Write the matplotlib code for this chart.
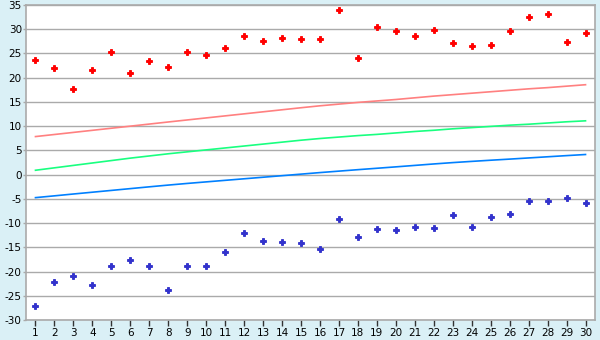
import matplotlib.pyplot as plt
import numpy as np

plt.rcParams['axes.unicode_minus'] = False

# Data
x = np.arange(1, 31)

upper_pts = [23.6, 22.1, 17.6, 21.5, 25.4, 20.9, 23.4, 22.3, 25.4, 24.6,
             26.1, 28.5, 27.5, 28.1, 27.9, 27.9, 33.9, 24.0, 30.4, 29.6,
             28.5, 29.8, 27.1, 26.5, 26.7, 29.6, 32.5, 33.1, 27.3, 29.2]
lower_pts = [-27.2, -22.2, -21.0, -22.8, -18.9, -17.7, -18.9, -23.9, -18.9, -18.9,
             -16.0, -12.1, -13.8, -14.0, -14.2, -15.4, -9.2, -12.9, -11.3, -11.5,
             -10.9, -11.1, -8.4, -10.9, -8.8, -8.2, -5.5, -5.5, -4.9, -5.9]
red_line = [7.85, 8.28, 8.71, 9.14, 9.57, 10.0, 10.43, 10.86, 11.28, 11.70,
            12.12, 12.54, 12.96, 13.38, 13.8, 14.2, 14.55, 14.9, 15.2, 15.5,
            15.85, 16.2, 16.5, 16.8, 17.1, 17.4, 17.7, 17.95, 18.25, 18.55]
green_line = [0.9, 1.4, 1.9, 2.4, 2.9, 3.4, 3.85, 4.3, 4.7, 5.1,
              5.5, 5.9, 6.3, 6.7, 7.1, 7.45, 7.75, 8.05, 8.3, 8.6,
              8.9, 9.15, 9.45, 9.7, 9.95, 10.2, 10.4, 10.65, 10.9, 11.1]
blue_line = [-4.75, -4.38, -4.0, -3.63, -3.26, -2.89, -2.52, -2.16, -1.82, -1.5,
             -1.18, -0.86, -0.54, -0.22, 0.1, 0.42, 0.72, 1.02, 1.31, 1.6,
             1.9, 2.2, 2.48, 2.73, 2.97, 3.2, 3.44, 3.68, 3.92, 4.15]

bg = '#daf0f6'
grid_col = '#aaaaaa'

fig = plt.figure(figsize=(6, 3.4), dpi=100, facecolor=bg)
ax = fig.add_axes([26 / 600, 1 - 320 / 340, 569 / 600, 315 / 340])
ax.set_facecolor('white')

# Lines
ax.plot(x, red_line, color='#ff8080', lw=1.2, zorder=2)
ax.plot(x, green_line, color='#19ff80', lw=1.2, zorder=2)
ax.plot(x, blue_line, color='#0080ff', lw=1.2, zorder=2)

# Points (plus with a solid centre)
for pts, c in [(upper_pts, '#ff0000'), (lower_pts, '#3333cc')]:
    ax.plot(x, pts, ls='none', marker='P', ms=5, color=c, mew=0.6, zorder=3)
    ax.plot(x, pts, ls='none', marker='D', ms=3, color=c, mew=0, zorder=3)

ax.set_xlim(0.5, 30.5)
ax.set_ylim(-30, 35)
ax.set_xticks(x)
ax.set_yticks(np.arange(-30, 36, 5))
ax.yaxis.grid(True, color=grid_col, lw=1)
ax.set_axisbelow(True)

for s in ax.spines.values():
    s.set_color(grid_col)
    s.set_linewidth(1.2)

ax.tick_params(axis='x', direction='out', length=4, width=1, color='#333333',
               labelsize=7.5, pad=2)
ax.tick_params(axis='y', direction='out', length=2, width=1, color=grid_col,
               labelsize=7.5, pad=1)

fig.savefig('out.png', dpi=100, facecolor=bg)
